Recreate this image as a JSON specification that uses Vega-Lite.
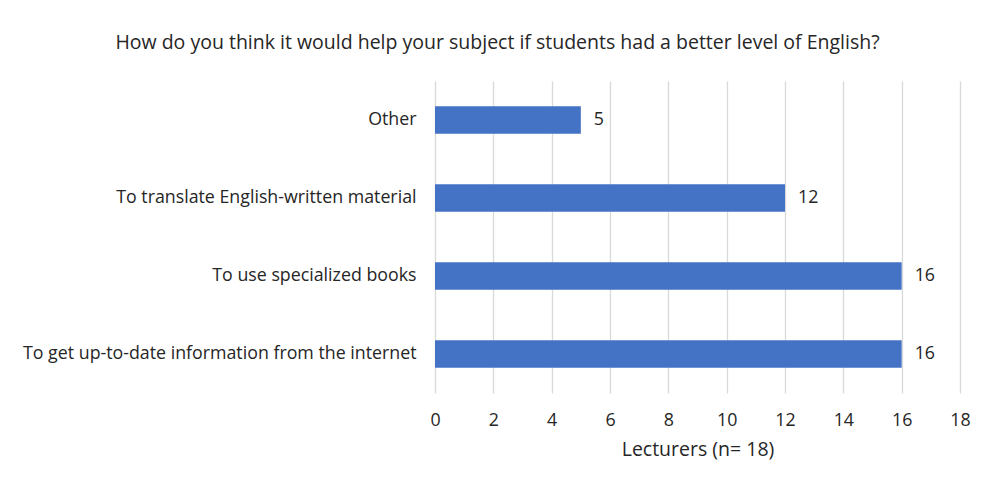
{
  "$schema": "https://vega.github.io/schema/vega-lite/v6.json",
  "autosize": "none",
  "width": 525,
  "height": 312,
  "padding": {"left": 435, "top": 81, "right": 23, "bottom": 94},
  "background": "white",
  "title": {
    "text": "How do you think it would help your subject if students had a better level of English?",
    "anchor": "middle",
    "frame": "group",
    "dx": -200,
    "offset": 28,
    "font": "Open Sans",
    "fontSize": 19.5,
    "fontWeight": "normal",
    "color": "#262626"
  },
  "data": {
    "values": [
      {"reason": "Other", "count": 5},
      {"reason": "To translate English-written material", "count": 12},
      {"reason": "To use specialized books", "count": 16},
      {"reason": "To get up-to-date information from the internet", "count": 16}
    ]
  },
  "config": {
    "view": {"stroke": null},
    "font": "Open Sans"
  },
  "encoding": {
    "y": {
      "field": "reason",
      "type": "nominal",
      "sort": null,
      "title": null,
      "scale": {"paddingInner": 0.65, "paddingOuter": 0.325},
      "axis": {
        "domain": false,
        "ticks": false,
        "grid": false,
        "labelPadding": 19,
        "labelFont": "Open Sans",
        "labelFontSize": 17.8,
        "labelColor": "#262626",
        "labelLimit": 500
      }
    },
    "x": {
      "field": "count",
      "type": "quantitative",
      "scale": {"domain": [0, 18], "nice": false},
      "title": "Lecturers (n= 18)",
      "axis": {
        "values": [0, 2, 4, 6, 8, 10, 12, 14, 16, 18],
        "domain": false,
        "ticks": false,
        "grid": true,
        "gridColor": "#d9d9d9",
        "gridWidth": 1.3,
        "labelFlush": false,
        "labelPadding": 18,
        "labelFont": "Open Sans",
        "labelFontSize": 17.8,
        "labelColor": "#262626",
        "titleFont": "Open Sans",
        "titleFontSize": 19.5,
        "titleFontWeight": "normal",
        "titleColor": "#262626",
        "titlePadding": 12
      }
    }
  },
  "layer": [
    {"mark": {"type": "bar", "color": "#4472C4"}},
    {
      "mark": {"type": "text", "align": "left", "dx": 13, "font": "Open Sans", "fontSize": 17.8, "color": "#262626"},
      "encoding": {"text": {"field": "count", "type": "quantitative"}}
    }
  ]
}
